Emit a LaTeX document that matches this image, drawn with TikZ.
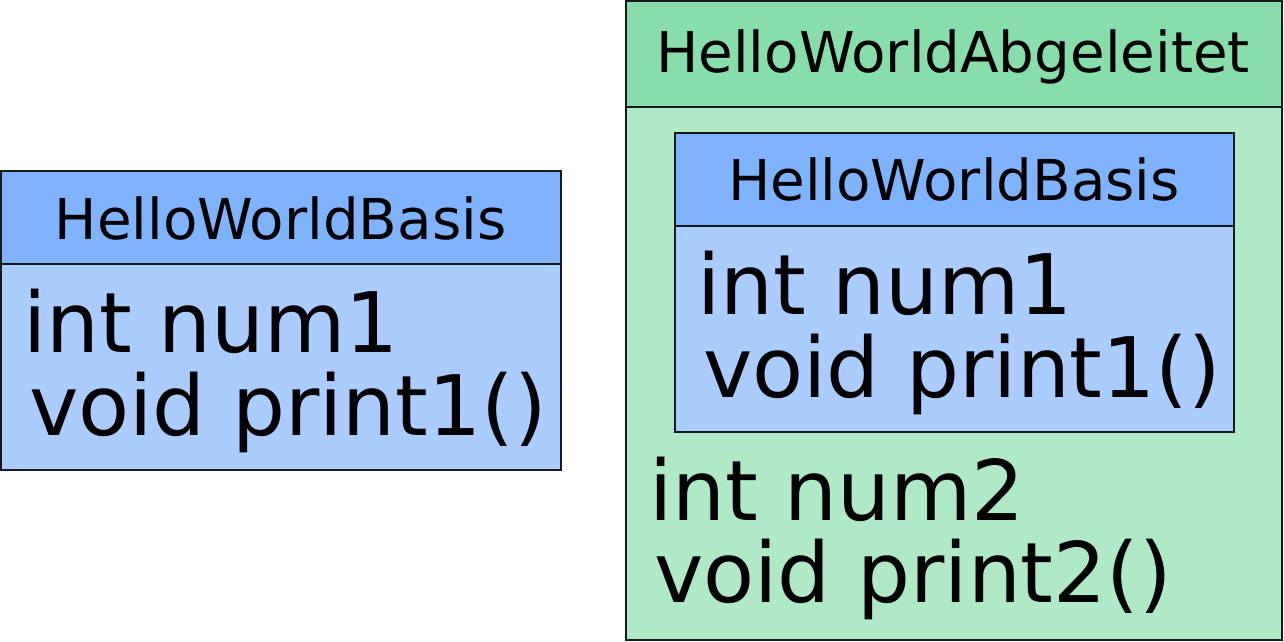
\documentclass[tikz,border=0pt]{standalone}
\usepackage{fontspec}
\setmainfont{DejaVu Sans}
\usetikzlibrary{positioning}

\definecolor{headblue}{HTML}{80B3FF}
\definecolor{bodyblue}{HTML}{AACCFF}
\definecolor{headgreen}{HTML}{87DEAA}
\definecolor{bodygreen}{HTML}{AFE9C6}

\tikzset{
  classbox/.style={draw=black!90, line width=1.6pt, rectangle, inner sep=0pt, outer sep=0pt, anchor=north west},
  titletext/.style={anchor=base, inner sep=0pt, font=\fontsize{56.3}{56.3}\selectfont},
  membertext/.style={anchor=base west, inner sep=0pt, font=\fontsize{83.5}{83.5}\selectfont}
}

\begin{document}
\begin{tikzpicture}[x=1pt,y=-1pt]
\useasboundingbox (0,0) rectangle (1284,642);

% Basisklasse (links)
\node[classbox, fill=headblue, minimum width=560pt, minimum height=93pt] (basisHead) at (1,171) {};
\node[classbox, fill=bodyblue, minimum width=560pt, minimum height=206pt, below=0pt of basisHead] (basisBody) {};
\node[titletext] (basisTitle) at (280.5,239) {HelloWorldBasis};
\node[membertext] (basisNum) at (23,352) {int num1};
\node[membertext] (basisPrint) at (29,435) {void print1()};

% Abgeleitete Klasse (rechts)
\node[classbox, fill=headgreen, minimum width=656pt, minimum height=106pt] (abgHead) at (626,1) {};
\node[classbox, fill=bodygreen, minimum width=656pt, minimum height=533pt, below=0pt of abgHead] (abgBody) {};
\node[titletext] (abgTitle) at (953,72) {HelloWorldAbgeleitet};

% Enthaltener Basisteil
\node[classbox, fill=headblue, minimum width=559pt, minimum height=93pt] (innerHead) at (675,133) {};
\node[classbox, fill=bodyblue, minimum width=559pt, minimum height=206pt, below=0pt of innerHead] (innerBody) {};
\node[titletext] (innerTitle) at (954,200) {HelloWorldBasis};
\node[membertext] (innerNum) at (697,314) {int num1};
\node[membertext] (innerPrint) at (703,397) {void print1()};

% Eigene Member
\node[membertext] (abgNum) at (649,520) {int num2};
\node[membertext] (abgPrint) at (654,602) {void print2()};
\end{tikzpicture}
\end{document}
